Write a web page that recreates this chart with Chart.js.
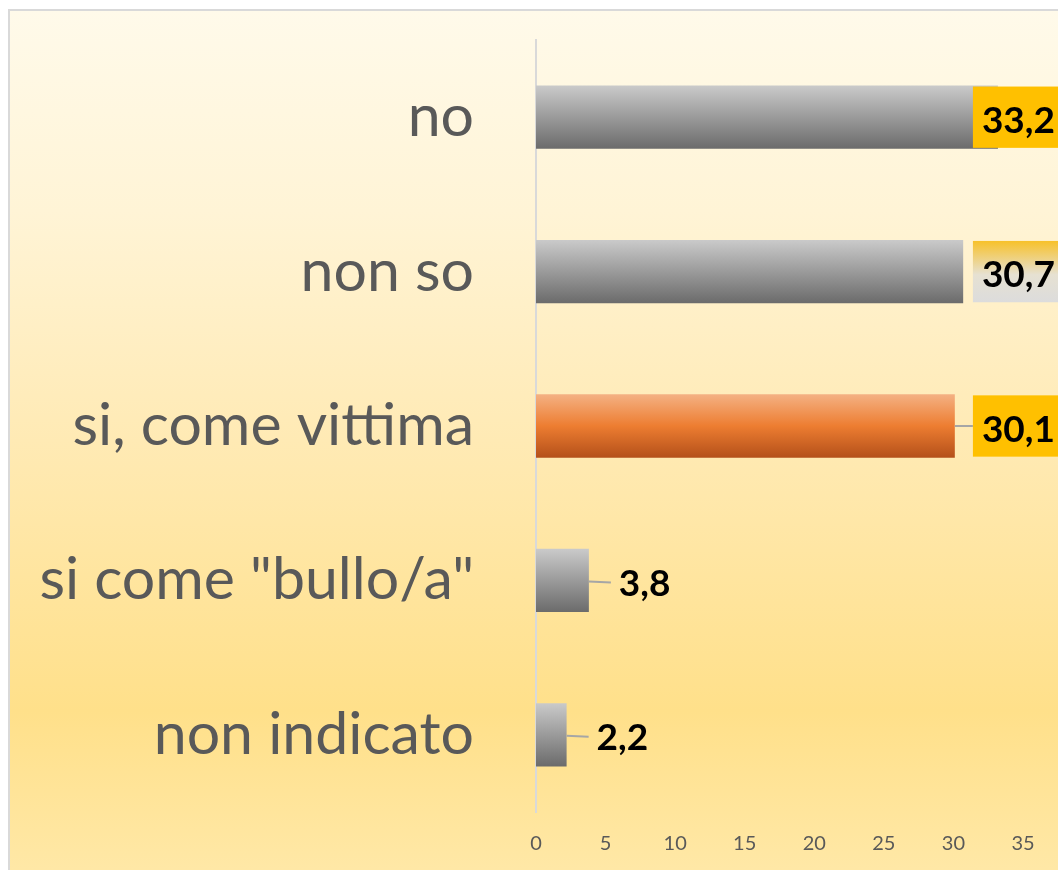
<!DOCTYPE html>
<html>
<head>
<meta charset="utf-8">
<script src="https://cdn.jsdelivr.net/npm/chart.js@4.4.1/dist/chart.umd.min.js"></script>
<style>
    html, body { margin: 0; padding: 0; background: #ffffff; overflow: hidden; }
    #frame {
        position: absolute; left: 8px; top: 9px; width: 1080px; height: 900px;
        border: 2px solid #d9d9d9;
        background: linear-gradient(to bottom, #fffaea 0px, #fff4d6 200px, #ffeab4 430px, #ffe08a 700px, #ffe9aa 880px);
    }
    #chart { position: absolute; left: 0; top: 0; }
</style>
</head>
<body>
<div id="frame"></div>
<canvas id="chart" width="1058" height="870"></canvas>
<script>
// Dati del grafico
var categories = ['no', 'non so', 'si, come vittima', 'si come "bullo/a"', 'non indicato'];
var values = [33.2, 30.7, 30.1, 3.8, 2.2];
var xTicks = [0, 5, 10, 15, 20, 25, 30, 35];

var highlight = 'si, come vittima';
var barPct = 0.41;

// Sfumatura verticale di ogni barra
function barFill(c) {
    var chart = c.chart;
    var ys = chart.scales.y;
    if (!ys || !chart.chartArea) return '#a0a0a0';
    var mid = ys.getPixelForValue(c.dataIndex);
    var half = ys.height / categories.length * barPct / 2;
    var g = chart.ctx.createLinearGradient(0, mid - half, 0, mid + half);
    if (categories[c.dataIndex] === highlight) {
        g.addColorStop(0, '#f4b183');
        g.addColorStop(0.5, '#ed7d31');
        g.addColorStop(1, '#b4501a');
    } else {
        g.addColorStop(0, '#cacaca');
        g.addColorStop(1, '#6b6b6b');
    }
    return g;
}

// Etichette dei valori (riquadri dorati e linee guida)
var valueLabels = {
    id: 'valueLabels',
    afterDatasetsDraw: function (chart) {
        var ctx = chart.ctx;
        var xs = chart.scales.x;
        var meta = chart.getDatasetMeta(0);
        ctx.save();
        ctx.font = 'bold 37px Lato';
        ctx.textBaseline = 'alphabetic';
        ctx.textAlign = 'left';
        meta.data.forEach(function (bar, i) {
            var v = values[i];
            var txt = v.toFixed(1).replace('.', ',');
            var yc = bar.y;
            var h = bar.height;
            var base = yc + 15.5;
            ctx.strokeStyle = '#a6a6a6';
            ctx.lineWidth = 2;
            if (v > 30) {
                var bx = xs.getPixelForValue(31.4);
                if (bx - bar.x > 12) {
                    ctx.beginPath();
                    ctx.moveTo(bar.x, yc);
                    ctx.lineTo(bx, yc);
                    ctx.stroke();
                }
                var top = yc - h / 2 + 1, bh = h - 2;
                if (i === 1) {
                    var g = ctx.createLinearGradient(0, top, 0, top + bh);
                    g.addColorStop(0, '#f7c12a');
                    g.addColorStop(0.55, '#e6e1d2');
                    g.addColorStop(1, '#dcdcdc');
                    ctx.fillStyle = g;
                } else {
                    ctx.fillStyle = '#ffc000';
                }
                ctx.fillRect(bx, top, 100, bh);
                ctx.fillStyle = '#000000';
                ctx.fillText(txt, bx + 9, base);
            } else {
                ctx.beginPath();
                ctx.moveTo(bar.x, yc + 1);
                ctx.lineTo(bar.x + 22, yc + 2);
                ctx.stroke();
                ctx.fillStyle = '#000000';
                ctx.fillText(txt, bar.x + 30, base);
            }
        });
        ctx.restore();
    }
};

new Chart(document.getElementById('chart'), {
    type: 'bar',
    data: {
        labels: categories,
        datasets: [{
            data: values,
            backgroundColor: barFill,
            borderWidth: 0,
            barPercentage: barPct,
            categoryPercentage: 1
        }]
    },
    options: {
        indexAxis: 'y',
        responsive: false,
        animation: false,
        events: [],
        layout: { padding: { top: 40, right: 35, bottom: 0, left: 0 } },
        plugins: { legend: { display: false }, tooltip: { enabled: false } },
        scales: {
            x: {
                min: 0,
                max: 35,
                afterBuildTicks: function (s) { s.ticks = xTicks.map(function (v) { return { value: v }; }); },
                afterFit: function (s) { s.height = 58; },
                grid: { display: false, drawTicks: false },
                border: { display: false },
                ticks: { color: '#595959', padding: 20, font: { family: 'Lato', size: 20 } }
            },
            y: {
                afterFit: function (s) { s.width = 536; s.paddingTop = 0; s.paddingBottom = 0; },
                grid: { display: false, drawTicks: false, tickLength: 0 },
                border: { display: true, color: '#d9d9d9', width: 2 },
                ticks: { color: '#595959', padding: 62, font: { family: 'Lato', size: 59 } }
            }
        }
    },
    plugins: [valueLabels]
});
</script>
</body>
</html>
